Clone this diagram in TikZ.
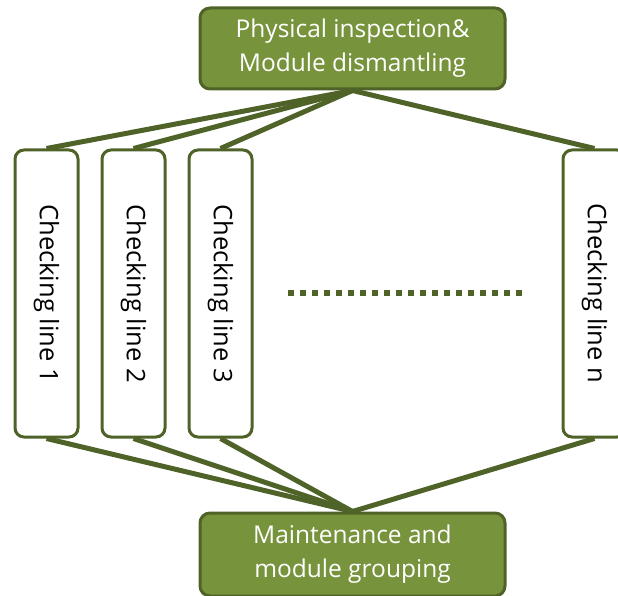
\documentclass[tikz,border=0pt]{standalone}
\usepackage{fontspec}
\setmainfont{Open Sans}
\usepackage{xcolor}
\definecolor{OliveFill}{HTML}{77933C}
\definecolor{OliveLine}{HTML}{4F6228}

\begin{document}
\begin{tikzpicture}[x=1pt,y=1pt]
		\useasboundingbox (0,0) rectangle (618,-596);
		\tikzset{StepStyle/.style = {rectangle, rounded corners=10pt, draw=OliveLine, line width=3pt,
				fill=OliveFill, text=white, align=center, minimum width=305pt, font=\fontsize{24.5}{34}\selectfont},
			LineStyle/.style = {rectangle, rounded corners=9pt, draw=OliveLine, line width=3pt, fill=white,
				rotate=-90, minimum width=287pt, minimum height=63pt, font=\fontsize{25.5}{28}\selectfont},
			EdgeStyle/.style = {draw=OliveLine, line width=5pt}}
		%\node[StepStyle] at (0,0){...};
		\node[StepStyle, minimum height=81pt] (top) at (352.5,-48.5) {Physical inspection\&\\Module dismantling};
		\node[StepStyle, minimum height=83pt] (bot) at (352.5,-554.5) {Maintenance and\\module grouping};
		% rotated boxes: west is the top side, east the bottom side
		\node[LineStyle] (c1) at (46.5,-293.5) {Checking line 1};
		\node[LineStyle] (c2) at (133.5,-293.5) {Checking line 2};
		\node[LineStyle] (c3) at (220.5,-293.5) {Checking line 3};
		\node[LineStyle] (cn) at (594.5,-293.5) {Checking line n};
		\foreach \c in {c1,c2,c3,cn}{
			\draw[EdgeStyle] (top.south) -- (\c.west);
			\draw[EdgeStyle] (\c.east) -- (bot.north);
		}
		\coordinate (dotA) at (288,-293);
		\coordinate (dotB) at (522,-293);
		\draw[OliveLine, line width=6pt, dash pattern=on 6pt off 6pt] (dotA) -- (dotB);
		\end{tikzpicture}
\end{document}
